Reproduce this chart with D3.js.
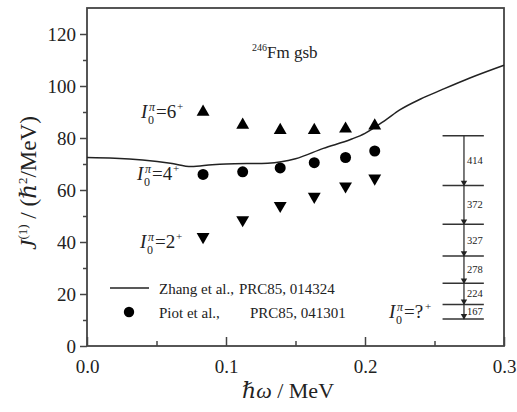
<!DOCTYPE html>
<html>
<head>
<meta charset="utf-8">
<script src="https://cdn.jsdelivr.net/npm/d3@7"></script>
<style>
  body { margin: 0; background: #fff; }
  svg text { font-family: "Liberation Serif", "DejaVu Serif", "Times New Roman", serif; fill: #222; }
</style>
</head>
<body>
<svg id="chart" width="517" height="412"></svg>
<script>
// transition energies (keV), hbar*omega = E/2
var gammas = [167, 224, 278, 327, 372, 414];
var omega = [0.0835, 0.112, 0.139, 0.1635, 0.186, 0.207];
var spin6 = [90, 85, 83, 83, 83.5, 84.7];
var spin4 = [66, 67, 68.5, 70.5, 72.5, 75];
var spin2 = [42, 48.5, 54, 57.5, 61.5, 64.5];
// Zhang et al. curve
var zhangX = [0, 0.02, 0.04, 0.06, 0.075, 0.09, 0.1, 0.13, 0.15, 0.17, 0.19, 0.2, 0.215, 0.225, 0.24, 0.255, 0.275, 0.3];
var zhangY = [72.5, 72.2, 71.5, 70.3, 69, 69.7, 70, 70.3, 72, 76, 79.5, 81.8, 87, 90.8, 95, 98.5, 103, 108];
// level scheme (J axis units)
var levels = [10.4, 16, 24.1, 34.6, 46.8, 61.7, 80.9];
var xTicks = [0, 0.1, 0.2, 0.3];
var yTicks = [0, 20, 40, 60, 80, 100, 120];

var serif = "'Liberation Serif', 'DejaVu Serif', 'Times New Roman', serif";
var svg = d3.select("#chart");
var margin = { top: 8, right: 13, bottom: 66, left: 87 };
var width = 517 - margin.left - margin.right;
var height = 412 - margin.top - margin.bottom;

var x = d3.scaleLinear().domain([0, 0.3]).range([margin.left, margin.left + width]);
var y = d3.scaleLinear().domain([0, 130]).range([margin.top + height, margin.top]);

var axisColor = "#444";

// axes
svg.append("g")
	.attr("transform", "translate(0," + (margin.top + height) + ")")
	.call(d3.axisBottom(x).tickValues(xTicks).tickFormat(d3.format(".1f")).tickSize(-9).tickPadding(14));
svg.append("g")
	.attr("transform", "translate(0," + (margin.top + height) + ")")
	.call(d3.axisBottom(x).tickValues([0.05, 0.15, 0.25]).tickFormat("").tickSize(-5));
svg.append("g")
	.attr("transform", "translate(" + margin.left + ",0)")
	.call(d3.axisLeft(y).tickValues(yTicks).tickSize(7).tickPadding(4));
svg.append("g")
	.attr("transform", "translate(" + margin.left + ",0)")
	.call(d3.axisLeft(y).tickValues([10, 30, 50, 70, 90, 110]).tickFormat("").tickSize(4));

svg.selectAll(".domain").remove();
svg.selectAll("g").attr("font-family", serif);
svg.selectAll(".tick line").attr("stroke", axisColor).attr("stroke-width", 1.5);
svg.selectAll(".tick text").attr("font-size", 19).attr("fill", "#222");

// frame
svg.append("rect")
	.attr("x", margin.left).attr("y", margin.top)
	.attr("width", width).attr("height", height)
	.attr("fill", "none").attr("stroke", axisColor).attr("stroke-width", 1.8);

// Zhang curve
var zhang = zhangX.map(function(v, i) { return [v, zhangY[i]]; });
svg.append("path")
	.datum(zhang)
	.attr("fill", "none").attr("stroke", "#222").attr("stroke-width", 1.5)
	.attr("d", d3.line().x(function(d) { return x(d[0]); }).y(function(d) { return y(d[1]); }).curve(d3.curveMonotoneX));

// markers
var triUp = d3.symbol().type(d3.symbolTriangle).size(72);
svg.selectAll(".up").data(spin6).enter().append("path")
	.attr("d", triUp)
	.attr("fill", "#000")
	.attr("transform", function(d, i) { return "translate(" + x(omega[i]) + "," + y(d) + ")"; });
svg.selectAll(".down").data(spin2).enter().append("path")
	.attr("d", triUp)
	.attr("fill", "#000")
	.attr("transform", function(d, i) { return "translate(" + x(omega[i]) + "," + y(d) + ") rotate(180)"; });
svg.selectAll(".dot").data(spin4).enter().append("circle")
	.attr("cx", function(d, i) { return x(omega[i]); })
	.attr("cy", function(d) { return y(d); })
	.attr("r", 5.5).attr("fill", "#000");

// I0^pi labels
function spinLabel(px, py, val) {
	var g = svg.append("g").attr("font-family", serif);
	g.append("text").attr("x", px).attr("y", py).attr("font-size", 19).attr("font-style", "italic").text("I");
	g.append("text").attr("x", px + 7).attr("y", py + 6).attr("font-size", 12).text("0");
	g.append("text").attr("x", px + 8).attr("y", py - 7).attr("font-size", 12).attr("font-style", "italic").text("π");
	g.append("text").attr("x", px + 15).attr("y", py).attr("font-size", 19).text("=" + val);
	g.append("text").attr("x", px + 36).attr("y", py - 8).attr("font-size", 11).text("+");
}
spinLabel(141, 118, "6");
spinLabel(137, 180, "4");
spinLabel(140, 248, "2");
spinLabel(389, 318, "?");

// title
var tt = svg.append("text").attr("x", 252).attr("y", 58).attr("font-size", 17);
tt.append("tspan").attr("font-size", 10).attr("dy", -7).text("246");
tt.append("tspan").attr("dy", 7).text("Fm gsb");

// level scheme
var lx0 = x(0.2558), lx1 = x(0.2855), lxm = x(0.2712);
svg.selectAll(".lev").data(levels).enter().append("line")
	.attr("x1", lx0).attr("x2", lx1)
	.attr("y1", function(d) { return y(d); }).attr("y2", function(d) { return y(d); })
	.attr("stroke", "#333").attr("stroke-width", 1.5);
svg.append("line")
	.attr("x1", lxm).attr("x2", lxm)
	.attr("y1", y(levels[levels.length - 1])).attr("y2", y(levels[0]))
	.attr("stroke", "#333").attr("stroke-width", 1.3);
svg.selectAll(".arr").data(levels.slice(0, -1)).enter().append("path")
	.attr("d", d3.symbol().type(d3.symbolTriangle).size(18))
	.attr("fill", "#222")
	.attr("transform", function(d) { return "translate(" + lxm + "," + (y(d) - 3) + ") rotate(180)"; });
svg.selectAll(".glab").data(gammas).enter().append("text")
	.attr("x", lxm + 3)
	.attr("y", function(d, i) { return (y(levels[i]) + y(levels[i + 1])) / 2 + 3.5; })
	.attr("font-size", 10.5).attr("fill", "#555")
	.text(function(d) { return d; });

// legend
svg.append("line").attr("x1", 110).attr("x2", 149).attr("y1", 288).attr("y2", 288)
	.attr("stroke", "#222").attr("stroke-width", 1.5);
svg.append("text").attr("x", 159).attr("y", 294).attr("font-size", 15).text("Zhang et al.,");
svg.append("text").attr("x", 239).attr("y", 294).attr("font-size", 15).text("PRC85, 014324");
svg.append("circle").attr("cx", 129).attr("cy", 312).attr("r", 5.2).attr("fill", "#000");
svg.append("text").attr("x", 159).attr("y", 318).attr("font-size", 15).text("Piot et al.,");
svg.append("text").attr("x", 250).attr("y", 318).attr("font-size", 15).text("PRC85, 041301");

// axis titles
var xt = svg.append("text").attr("x", 288).attr("y", 398).attr("text-anchor", "middle").attr("font-size", 22);
xt.append("tspan").attr("font-style", "italic").text("ℏω");
xt.append("tspan").text(" / MeV");

var yt = svg.append("text").attr("transform", "translate(36,183) rotate(-90)")
	.attr("text-anchor", "middle").attr("font-size", 23);
yt.append("tspan").attr("font-style", "italic").text("J");
yt.append("tspan").attr("font-size", 13).attr("dy", -9).text("(1)");
yt.append("tspan").attr("dy", 9).text(" / (");
yt.append("tspan").attr("font-style", "italic").text("ℏ");
yt.append("tspan").attr("font-size", 13).attr("dy", -9).text("2");
yt.append("tspan").attr("dy", 9).text("/MeV)");
</script>
</body>
</html>
